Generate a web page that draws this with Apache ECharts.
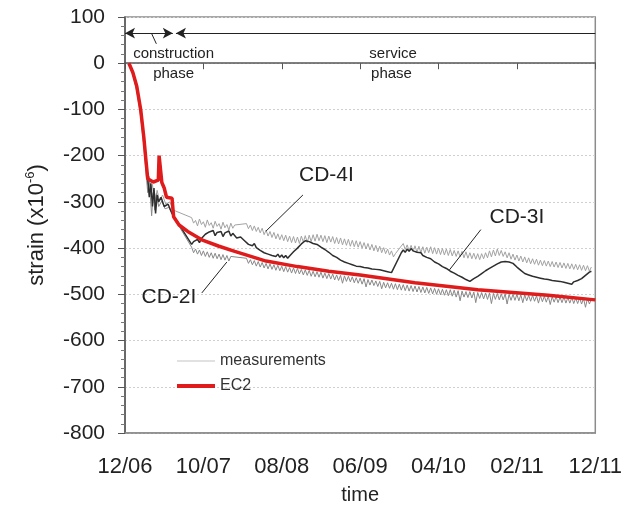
<!DOCTYPE html>
<html>
<head>
<meta charset="utf-8">
<script src="https://cdn.jsdelivr.net/npm/echarts@6/dist/echarts.min.js"></script>
<style>
  html, body { margin: 0; padding: 0; background: #fff; }
  #chart { width: 625px; height: 510px; }
</style>
</head>
<body>
<div id="chart"></div>
<script>
// time in months since 12/06, strain in 1e-6
const tickLabels = ['12/06', '10/07', '08/08', '06/09', '04/10', '02/11', '12/11']

const ec2 = [
  [0.5, 0], [1.0, -20], [1.5, -50], [2.0, -100], [2.4, -160], [2.7, -215], [2.9, -250],
  [3.6, -257], [4.25, -253], [4.35, -200], [4.6, -200], [4.7, -258], [5.0, -270], [5.3, -290],
  [6.0, -292], [6.1, -312], [6.2, -332], [6.9, -350], [8, -364], [9.8, -382], [12, -396],
  [14, -407], [18, -428], [22, -440], [26, -450], [30, -458], [37, -475], [45, -490],
  [54, -502], [60, -512]
]

// construction phase readings (month, strain)
const cd4Early = [
  [0.5, 0], [1.0, -22], [1.5, -55], [2.0, -108], [2.4, -168], [2.7, -228], [2.9, -262],
  [3.1, -245], [3.3, -290], [3.5, -262], [3.8, -300], [4.1, -275], [4.4, -298], [4.8, -285],
  [5.2, -305], [5.7, -300], [6.2, -318]
]
const cd3Early = [
  [0.5, 0], [1.0, -18], [1.5, -48], [2.0, -100], [2.4, -162], [2.7, -222], [2.9, -250],
  [3.1, -290], [3.3, -260], [3.5, -310], [3.7, -270], [3.9, -325], [4.1, -285], [4.3, -300],
  [4.6, -290], [5.0, -310], [5.5, -305], [6.0, -325]
]
const cd2Early = [
  [0.5, 0], [1.0, -25], [1.5, -60], [2.0, -115], [2.4, -178], [2.7, -240], [2.9, -280],
  [3.1, -255], [3.4, -330], [3.6, -280], [3.8, -318], [4.0, -282], [4.3, -310], [4.7, -298],
  [5.1, -315], [5.6, -312], [6.1, -330]
]

// service phase readings, every quarter month from month 8.5 (null = no reading)
const serviceStart = 8.5
const serviceStep = 0.25

const cd4Service = [
  -334, -346, -340, -352, -337, -349, -343, -355, -339, -351, -345, -357, -342, -353, -347, -359,
  -344, -356, -349, -361, -346, -357, -350, null, null, null, null, null,
  -347, -358, -350, -362, -352, -364, -355, -367, -357, -371, -361, -374, -364, -377, -366, -380,
  -369, -382, -371, -384, -372, -386, -374, -388, -375, -389, -376, -390, -374, -387, -373, -388,
  -372, -386, -371, -385, -370, -384, -372, -386, -373, -388, -374, -387, -375, -390, -377, -391,
  -378, -393, -380, -394, -381, -396, -383, -397, -384, -398, -386, -400, -388, -402, -390, -404,
  -392, -406, -394, -408, -396, -410, -399, -412, -402, -415, -406, -419, -412, null, null, null,
  -390, -403, -393, -406, -394, -407, -395, -409, -396, -410, -397, -411, -398, -410, -397, -412,
  -399, -413, -400, -414, -401, -415, -402, -416, -403, -417, -405, -418, -406, -419, -407, -421,
  -408, -422, -410, -423, -411, -424, -412, -425, -412, -423, -410, -421, -406, -419, -404, -417,
  -402, -416, -405, -418, -408, -421, -410, -424, -413, -426, -415, -428, -417, -430, -419, -432,
  -421, -434, -423, -435, -424, -437, -426, -438, -427, -439, -428, -440, -429, -441, -430, -442,
  -431, -443, -432, -444, -433, -445, -434, -446, -435, -447, -436, -448, -437, -449, -438, -450,
  -441
]

const cd3Service = [
  -392, -386, -389, -381, -388, -379, -376, -370, -374, -365, -368, -362, -373, -366, -370, -364,
  -375, -367, -371, -363, -374, -368, -372, -378, -381, -376, -379, -384, -387, -392, -389, -395,
  -390, -399, -401, -405, -403, -410, -407, -413, -409, -416, -412, -418, -413, -420, -415, -421,
  -416, -422, -417, -413, -408, -405, -400, -396, -391, -388, -384, -381, -386, -383, -390, -386,
  -392, -395, -398, -396, -403, -405, -409, -412, -416, -414, -420, -423, -426, -424, -430, -428,
  -433, -431, -436, -433, -439, -435, -440, -436, -442, -438, -443, -439, -445, -441, -446, -442,
  -447, -443, -449, -445, -451, -447, -453, null, null, null, null, -410, -404, -409, -402, -407,
  -401, -406, -403, -409, -412, -410, -416, -414, -420, -417, -423, -426, -430, -428, -434, -437,
  -440, -438, -444, -447, -450, -448, -454, -457, -459, -457, -463, -466, -468, -466, -472, -469,
  -466, -463, -461, -458, -455, -452, -449, -447, -444, -442, -439, -437, -434, -432, -430, -427,
  -429, -425, -430, -427, -433, -437, -441, -444, -448, -451, -455, -452, -458, -455, -461, -458,
  -463, -460, -465, -462, -467, -463, -468, -465, -470, -466, -471, -467, -472, -468, -474, -470,
  -476, -472, -478, -473, -476, -470, -472, -466, -464, -459, -457, -452, -450
]

const cd2Service = [
  -398, -410, -402, -413, -404, -416, -406, -418, -408, -420, -410, -422, -411, -423, -413, -425,
  -414, -426, -416, -428, -418, null, null, null, null, null, null, null,
  -422, -433, -425, -436, -427, -439, -429, -441, -431, -443, -433, -445, -434, -446, -436, -448,
  -437, -449, -439, -451, -440, -452, -442, -454, -443, -455, -444, -456, -446, -458, -447, -459,
  -448, -461, -450, -462, -451, -463, -452, -465, -454, -466, -455, -467, -456, -469, -458, -470,
  -459, -476, -460, -472, -461, -473, -462, -475, -464, -476, -465, -478, -466, -484, -468, -480,
  -469, -481, -471, -483, -472, -488, -474, -486, -475, -487, -476, -489, -477, -490, -478, -491,
  -479, -492, -480, -493, -481, -494, -482, -495, -483, -496, -484, -497, -485, -498, -486, -499,
  -487, -500, -488, -501, -489, -502, -490, -503, -490, -504, -491, -506, -492, -514, -493, -506,
  -494, -507, -494, -508, -495, -518, -496, -509, -496, -510, -497, -511, -497, -520, -498, -511,
  -498, -512, -499, -512, -499, -521, -500, -513, -500, -513, -500, -514, -501, -518, -501, -514,
  -502, -515, -502, -515, -503, -519, -503, -516, -504, -517, -504, -522, -505, -517, -505, -518,
  -506, -518, -506, -519, -507, -519, -507, -520, -508, -520, -508, -521, -509, -528, -509, -521,
  -510
]

const font = 'Liberation Sans, Arial, sans-serif'

const withService = (early, vals) =>
  early.concat(vals.map((v, i) => [serviceStart + i * serviceStep, v]))

const chart = echarts.init(document.getElementById('chart'))

const textMark = (coord, text, size) => ({
  coord,
  symbol: 'circle',
  symbolSize: 1,
  itemStyle: { color: 'rgba(0,0,0,0)' },
  label: {
    show: true,
    position: 'inside',
    formatter: text,
    fontSize: size,
    color: '#222',
    fontFamily: font
  }
})

const leader = (a, b) => [{ coord: a }, { coord: b }]

const measureLine = (data, color, width, z) => ({
  name: 'measurements',
  type: 'line',
  data,
  symbol: 'none',
  connectNulls: true,
  lineStyle: { color, width },
  itemStyle: { color: '#c4c4c4' },
  z
})

const option = {
  animation: false,
  grid: {
    left: 125,
    right: 26,
    top: 17,
    bottom: 77,
    show: true,
    borderColor: '#8c8c8c',
    borderWidth: 1.5,
    containLabel: false
  },
  legend: {
    orient: 'vertical',
    left: 172,
    top: 348,
    itemWidth: 38,
    itemHeight: 10,
    itemGap: 9,
    selectedMode: false,
    textStyle: { fontSize: 16, color: '#333', fontFamily: font },
    data: [
      { name: 'measurements', icon: 'path://M0,4.5L38,4.5L38,5.5L0,5.5Z', itemStyle: { color: '#c4c4c4' } },
      { name: 'EC2', icon: 'path://M0,3L38,3L38,7L0,7Z', itemStyle: { color: '#e01b1b' } }
    ]
  },
  xAxis: [
    {
      type: 'value',
      min: 0,
      max: 60,
      interval: 10,
      name: 'time',
      nameLocation: 'middle',
      nameGap: 52,
      nameTextStyle: { fontSize: 20, color: '#222', fontFamily: font },
      axisLine: { show: true, onZero: false, lineStyle: { color: '#8c8c8c', width: 1.5 } },
      axisTick: { show: false },
      splitLine: { show: false },
      axisLabel: {
        margin: 23,
        fontSize: 22,
        color: '#222',
        fontFamily: font,
        formatter: v => tickLabels[Math.round(v / 10)]
      }
    },
    {
      type: 'value',
      min: 0,
      max: 60,
      interval: 10,
      position: 'bottom',
      axisLine: { show: true, onZero: true, lineStyle: { color: '#555', width: 1.5 } },
      axisTick: { show: true, length: 6, lineStyle: { color: '#555' } },
      splitLine: { show: false },
      axisLabel: { show: false }
    }
  ],
  yAxis: {
    type: 'value',
    min: -800,
    max: 100,
    interval: 100,
    name: 'strain (x10{sup|-6})',
    nameLocation: 'middle',
    nameGap: 76,
    nameRotate: 90,
    nameTextStyle: {
      fontSize: 22,
      color: '#222',
      fontFamily: font,
      rich: { sup: { fontSize: 13, verticalAlign: 'top', padding: [0, 0, 12, 0], fontFamily: font, color: '#222' } }
    },
    axisLine: { show: true, onZero: false, lineStyle: { color: '#555', width: 1.5 } },
    axisTick: { show: true, length: 7, lineStyle: { color: '#555' } },
    minorTick: { show: true, splitNumber: 5, length: 4, lineStyle: { color: '#777' } },
    splitLine: { show: true, lineStyle: { color: '#d0d0d0', type: [2, 2] } },
    axisLabel: { margin: 20, fontSize: 21, color: '#222', fontFamily: font }
  },
  series: [
    measureLine(withService(cd4Early, cd4Service), '#a2a2a2', 1, 2),
    measureLine(withService(cd2Early, cd2Service), '#888', 1, 2),
    measureLine(withService(cd3Early, cd3Service), '#2e2e2e', 1.5, 3),
    {
      name: 'EC2',
      type: 'line',
      data: ec2,
      symbol: 'none',
      lineStyle: { color: '#e01b1b', width: 3.5 },
      itemStyle: { color: '#e01b1b' },
      z: 4,
      markLine: {
        silent: true,
        animation: false,
        symbol: ['none', 'none'],
        label: { show: false },
        lineStyle: { color: '#222', width: 1, type: 'solid' },
        data: [
          [{ coord: [0, 65], symbol: 'arrow', symbolSize: [8, 10] }, { coord: [6.1, 65], symbol: 'arrow', symbolSize: [8, 10] }],
          [{ coord: [6.5, 65], symbol: 'arrow', symbolSize: [8, 10] }, { coord: [60, 65], symbol: 'none' }],
          leader([3.4, 64], [4.0, 42]),
          leader([22.7, -285], [18.0, -363]),
          leader([45.4, -360], [41.4, -447]),
          leader([9.8, -497], [13.0, -430])
        ]
      },
      markPoint: {
        silent: true,
        animation: false,
        data: [
          textMark([6.2, 21], 'construction', 15),
          textMark([6.2, -22], 'phase', 15),
          textMark([34.2, 21], 'service', 15),
          textMark([34.0, -22], 'phase', 15),
          textMark([25.7, -242], 'CD-4I', 21),
          textMark([50.0, -333], 'CD-3I', 21),
          textMark([5.6, -506], 'CD-2I', 21)
        ]
      }
    }
  ]
}

chart.setOption(option)
</script>
</body>
</html>
